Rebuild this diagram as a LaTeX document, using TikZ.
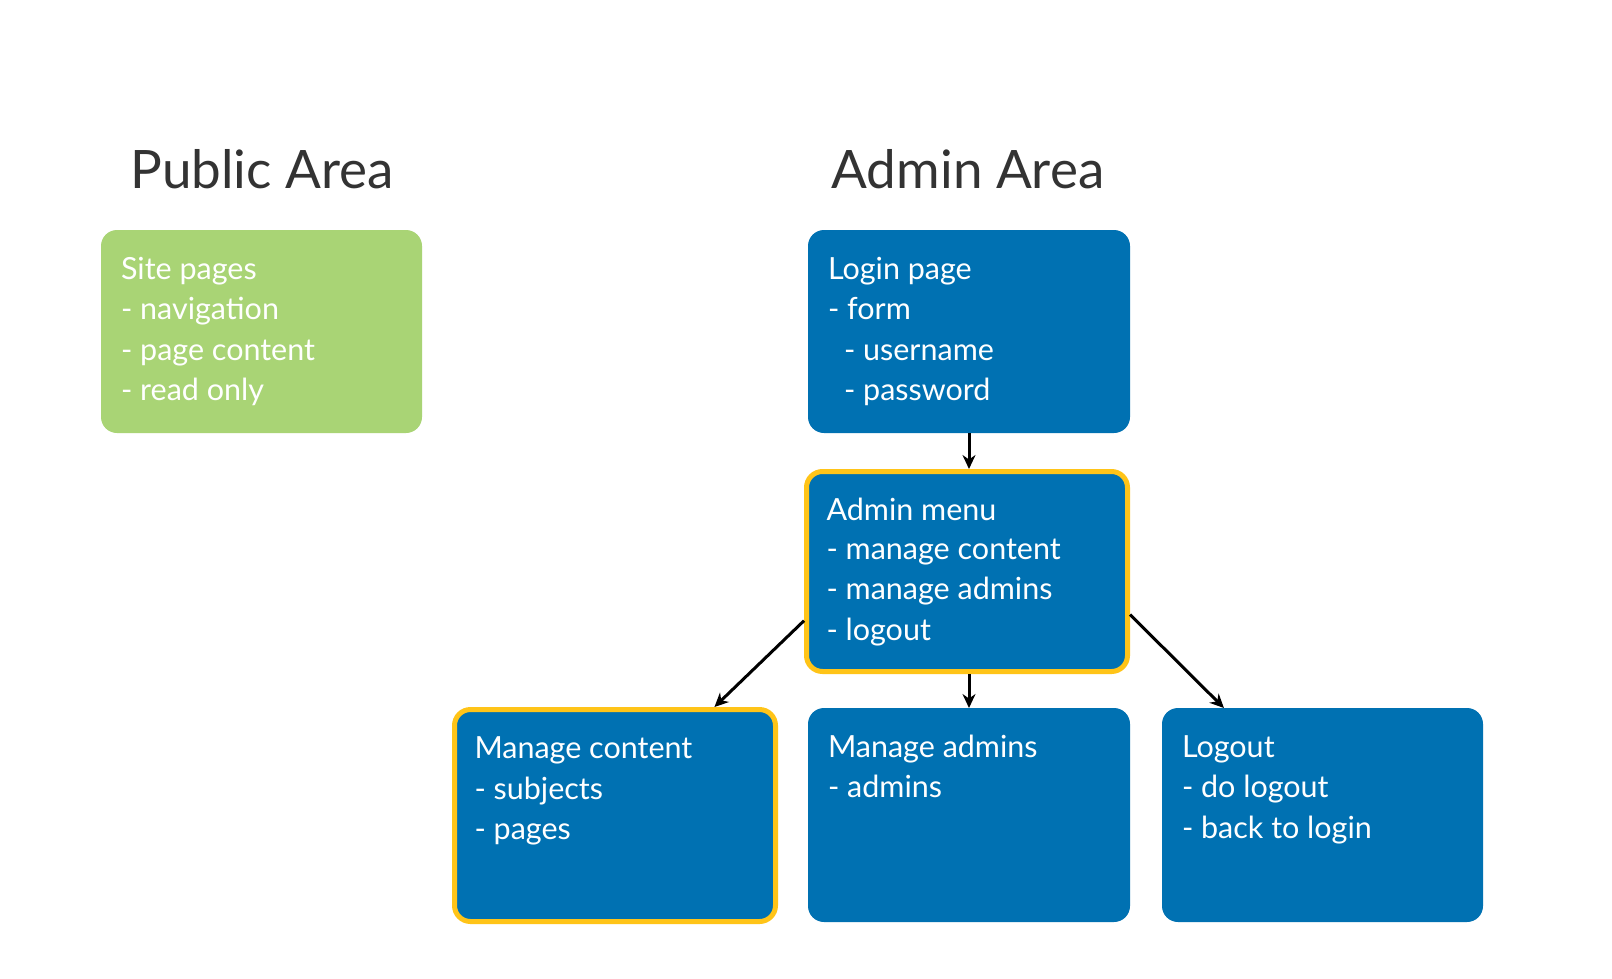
\documentclass[tikz,border=0pt]{standalone}
\usepackage{fontspec}
\setmainfont{Lato}
\usetikzlibrary{arrows.meta,calc}
\definecolor{adminblue}{RGB}{0,113,178}
\definecolor{sitegreen}{RGB}{169,212,117}
\definecolor{hiyellow}{RGB}{255,196,24}
\definecolor{titlegray}{RGB}{51,51,51}
\newcommand\boxtext[3]{\parbox[t][#1][t]{#2}{\raggedright\fontsize{30.5}{40.6}\selectfont\rule{0pt}{49pt}#3}}
\tikzset{
  pagebox/.style={rectangle, rounded corners=16pt, fill=adminblue, text=white, draw=none,
    inner xsep=20pt, inner ysep=0pt, outer sep=0pt, anchor=north west},
  greenbox/.style={pagebox, fill=sitegreen},
  hibox/.style={pagebox, draw=hiyellow, line width=5pt, outer sep=2.5pt},
  areatitle/.style={text=titlegray, font=\fontsize{53}{60}\selectfont, anchor=base, inner sep=0pt},
  flow/.style={-{Stealth[length=14pt,width=13pt]}, line width=3pt, black}
}
\begin{document}
\begin{tikzpicture}[x=1pt,y=-1pt]
\useasboundingbox[fill=white] (0,0) rectangle (1612,978);
\node[areatitle] (pubtitle) at (262,188) {Public Area};
\node[areatitle] (admtitle) at (968,188) {Admin Area};

\node[greenbox] (site) at (101,230) {\boxtext{203pt}{281pt}{Site pages\\- navigation\\- page content\\- read only}};
\node[pagebox] (login) at (808,230) {\boxtext{203pt}{282pt}{Login page\\- form\\\hspace*{16pt}- username\\\hspace*{16pt}- password}};
\node[hibox] (admin) at (804,469) {\boxtext{200pt}{281pt}{\vspace*{-2pt}Admin menu\\- manage content\\- manage admins\\- logout}};
\node[hibox] (content) at (452,707) {\boxtext{212pt}{281pt}{Manage content\\- subjects\\- pages}};
\node[pagebox] (admins) at (808,708) {\boxtext{214pt}{282pt}{Manage admins\\- admins}};
\node[pagebox] (logout) at (1162,708) {\boxtext{214pt}{281pt}{Logout\\- do logout\\- back to login}};

\draw[flow] (login.south) -- (login.south |- admin.north);
\draw[flow] (admins.north |- admin.south) -- (admins.north);
\draw[flow] ($(admin.north west)!0.74!(admin.south west)$) -- ($(content.north west)!0.805!(content.north east)$);
\draw[flow] ($(admin.north east)!0.71!(admin.south east)$) -- ($(logout.north west)!0.193!(logout.north east)$);
\end{tikzpicture}
\end{document}
